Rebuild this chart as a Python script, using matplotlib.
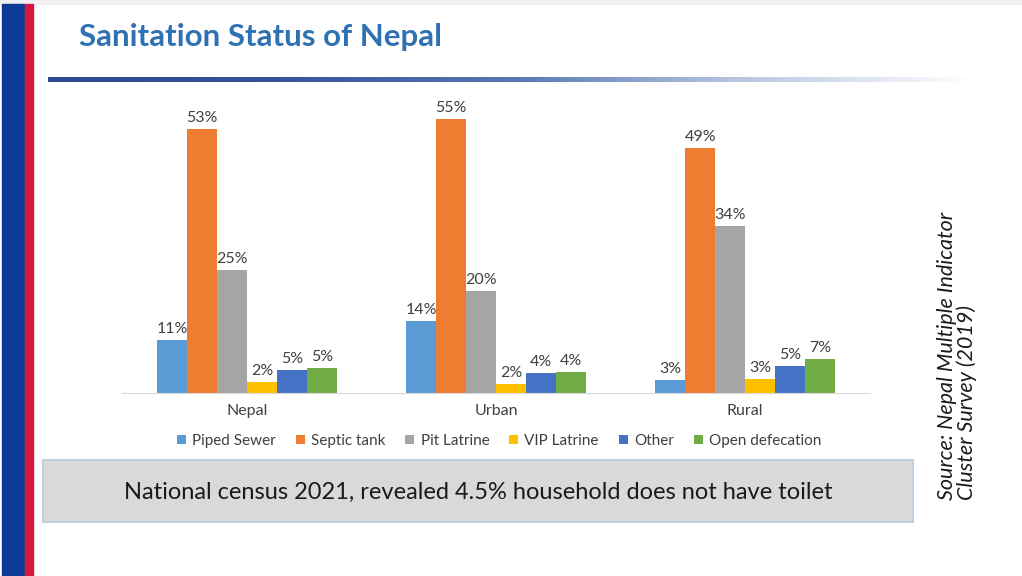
import numpy as np
import matplotlib
matplotlib.use("Agg")
import matplotlib.pyplot as plt
from matplotlib.patches import Rectangle
from matplotlib.colors import LinearSegmentedColormap

plt.rcParams['font.family'] = ['Lato', 'DejaVu Sans']

# data (percent of households)
regions = ['Nepal', 'Urban', 'Rural']
facilities = ['Piped Sewer', 'Septic tank', 'Pit Latrine', 'VIP Latrine', 'Other', 'Open defecation']
piped_sewer = [10.6, 14.4, 2.6]
septic_tank = [53.0, 55.0, 49.1]
pit_latrine = [24.7, 20.4, 33.6]
vip_latrine = [2.1, 1.7, 2.7]
other = [4.6, 4.0, 5.4]
open_defecation = [5.0, 4.2, 6.8]
series = [piped_sewer, septic_tank, pit_latrine, vip_latrine, other, open_defecation]
colors = ['#5B9BD5', '#ED7D31', '#A5A5A5', '#FFC000', '#4472C4', '#70AD47']

W, H = 1022, 576
fig = plt.figure(figsize=(W / 100, H / 100), dpi=100)
fig.patch.set_facecolor('white')

# slide decorations
fig.patches.append(Rectangle((0, 1 - 4 / H), 1, 4 / H, transform=fig.transFigure,
                             color='#F0F0F0', zorder=0))
fig.patches.append(Rectangle((2 / W, 0), 23 / W, 1 - 4 / H, transform=fig.transFigure,
                             color='#0D3A97', zorder=1))
fig.patches.append(Rectangle((25 / W, 0), 8 / W, 1 - 4 / H, transform=fig.transFigure,
                             color='#D8173F', zorder=1))

# gradient rule under title
rule = fig.add_axes([48 / W, 1 - 82 / H, 925 / W, 5 / H])
grad = np.linspace(0, 1, 256).reshape(1, -1)
cmap = LinearSegmentedColormap.from_list('rule', ['#2C4A8E', '#34559A', '#5577B3', '#B9C7E0', '#FFFFFF'])
rule.imshow(grad, aspect='auto', cmap=cmap, extent=[0, 1, 0, 1])
rule.axis('off')

fig.text(79 / W, 1 - 37 / H, 'Sanitation Status of Nepal', fontsize=22.5, fontweight='bold',
         color='#2F72B3', ha='left', va='center')

# chart
ax = fig.add_axes([122.5 / W, 1 - 392.7 / H, 747 / W, 298.5 / H])
x = np.arange(len(regions))
bw = 0.12
for i, (vals, c, name) in enumerate(zip(series, colors, facilities)):
    pos = x + (i - 2.5) * bw
    bars = ax.bar(pos, vals, bw, color=c, label=name)
    for b, v in zip(bars, vals):
        ax.text(b.get_x() + b.get_width() / 2, v + 0.8, '%.0f%%' % v,
                ha='center', va='bottom', fontsize=11.5, color='#404040')

ax.set_xlim(-0.5, 2.5)
ax.set_ylim(0, 60)
ax.set_xticks(x)
ax.set_xticklabels(regions, fontsize=11.5, color='#404040')
ax.tick_params(axis='x', length=0, pad=8)
ax.set_yticks([])
for s in ['top', 'right', 'left']:
    ax.spines[s].set_visible(False)
ax.spines['bottom'].set_color('#D9D9D9')
ax.patch.set_alpha(0)

fig.legend(loc='center', bbox_to_anchor=(499 / W, 1 - 441 / H), ncol=6, frameon=False,
           fontsize=11, handlelength=0.6, handleheight=0.6, handletextpad=0.4,
           columnspacing=1.3, labelcolor='#404040')

# note box
fig.patches.append(Rectangle((43 / W, 1 - 522 / H), 870 / W, 62 / H, transform=fig.transFigure,
                             facecolor='#D9D9D9', edgecolor='#BFD0E0', linewidth=1.5, zorder=1))
fig.text(478 / W, 1 - 492 / H, 'National census 2021, revealed 4.5% household does not have toilet',
         fontsize=17, color='#1A1A1A', ha='center', va='center')

fig.text(957 / W, 1 - 500 / H, 'Source: Nepal Multiple Indicator\nCluster Survey (2019)',
         rotation=90, fontsize=15.5, style='italic', color='#1A1A1A',
         ha='center', va='bottom', multialignment='left', linespacing=1.0)

fig.savefig('out.png', dpi=100)
